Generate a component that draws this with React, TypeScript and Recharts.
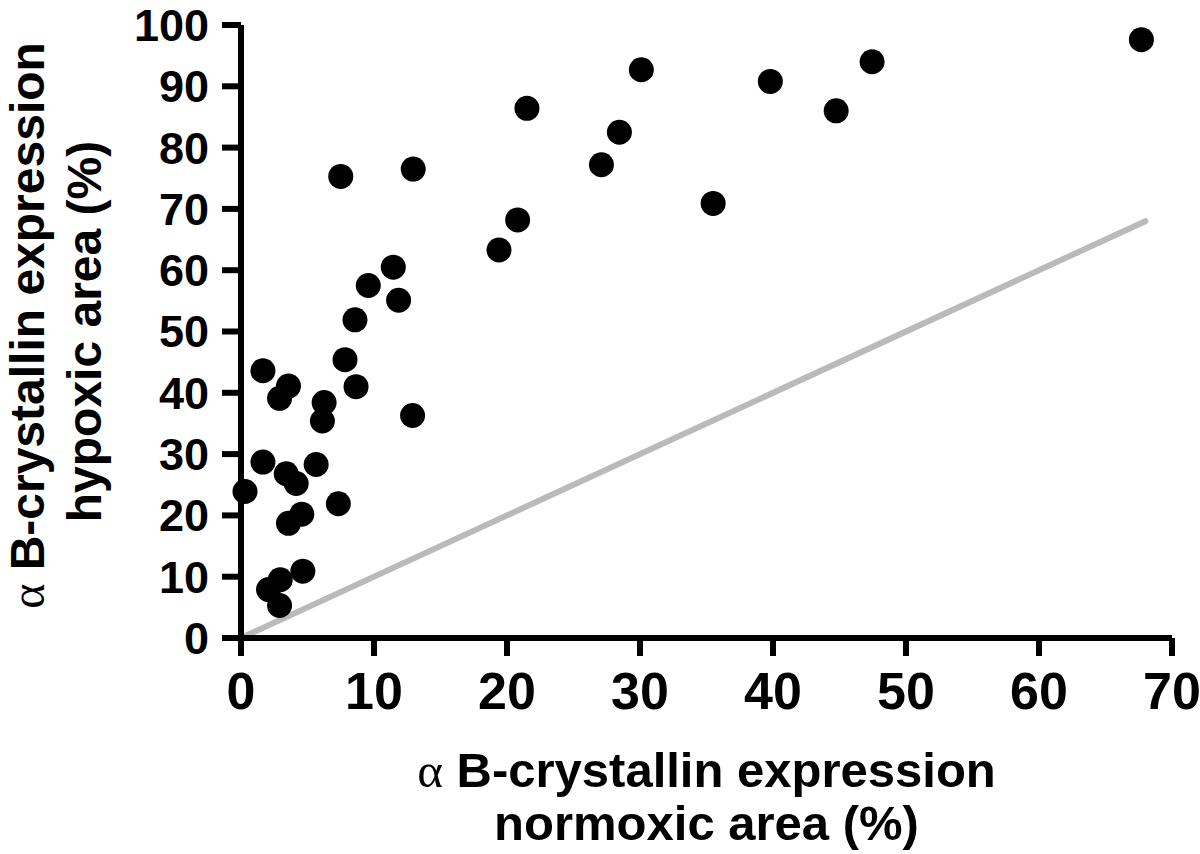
import React from 'react';
import { ScatterChart, Scatter, XAxis, YAxis, ReferenceLine, Label } from 'recharts';

// values (normoxic area % vs hypoxic area %)
const normoxic = [
  0.3, 1.65, 1.65, 2.07, 2.9, 2.95, 2.9, 3.57, 3.4, 3.57, 4.15, 4.57, 4.65, 5.65, 6.12, 6.25, 7.32, 7.5, 7.82,
  8.57, 8.65, 9.57, 11.45, 11.85, 12.9, 12.95, 19.4, 20.8, 21.5, 27.1, 28.45, 30.1, 35.5, 39.8, 44.75, 47.45, 67.7,
];
const hypoxic = [
  23.9, 43.6, 28.7, 7.9, 5.3, 9.5, 39.1, 41.1, 26.8, 18.7, 25.2, 20.2, 10.9, 28.3, 35.4, 38.4, 21.9, 75.3, 45.4,
  51.9, 41.0, 57.5, 60.5, 55.1, 36.3, 76.5, 63.3, 68.2, 86.4, 77.2, 82.5, 92.7, 70.9, 90.8, 86.0, 94.0, 97.6,
];
const xTicks = [0, 10, 20, 30, 40, 50, 60, 70];
const yTicks = [0, 10, 20, 30, 40, 50, 60, 70, 80, 90, 100];
// line of identity, drawn from 0 up to the largest normoxic value
const identityLine = [0, 68];

const points = normoxic.map((x, i) => ({ x, y: hypoxic[i] }));

const FONT = '"Liberation Sans", Arial, Helvetica, sans-serif';
const SERIF = '"Liberation Serif", "Times New Roman", serif';

const Dot = (props: any) => <circle cx={props.cx} cy={props.cy} r={12.5} fill="#000" />;

const XTitle = (props: any) => {
  const vb = props.viewBox || {};
  const cx = vb.x + vb.width / 2;
  return (
    <g fontFamily={FONT} fontWeight="bold" fontSize={49} fill="#000">
      <text x={cx} y={vb.y + 149} textAnchor="middle">
        <tspan fontFamily={SERIF} fontWeight="normal">α</tspan>
        <tspan> B-crystallin expression</tspan>
      </text>
      <text x={cx} y={vb.y + 202} textAnchor="middle">normoxic area (%)</text>
    </g>
  );
};

const YTitle = (props: any) => {
  const vb = props.viewBox || {};
  const cy = vb.y + vb.height / 2;
  return (
    <g fontFamily={FONT} fontWeight="bold" fontSize={48} fill="#000">
      <text x={44} y={cy - 6} textAnchor="middle" transform={`rotate(-90, 44, ${cy - 6})`}>
        <tspan fontFamily={SERIF} fontWeight="normal">α</tspan>
        <tspan> B-crystallin expression</tspan>
      </text>
      <text x={101} y={cy} textAnchor="middle" transform={`rotate(-90, 101, ${cy})`}>hypoxic area (%)</text>
    </g>
  );
};

export default function App() {
  return (
    <div style={{ position: 'absolute', left: 0, top: 0, width: 1200, height: 854, background: '#fff' }}>
      <ScatterChart width={1200} height={854} margin={{ top: 25, right: 28, left: 120, bottom: 116 }}>
        <XAxis
          type="number"
          dataKey="x"
          domain={[0, 70]}
          ticks={xTicks}
          interval={0}
          height={100}
          stroke="#000"
          strokeWidth={6}
          axisLine={{ stroke: '#000', strokeWidth: 6 }}
          tickLine={{ stroke: '#000', strokeWidth: 6 }}
          tickSize={18}
          tickMargin={16}
          tick={{ fill: '#000', fontSize: 52, fontWeight: 'bold', fontFamily: FONT, strokeWidth: 0 }}
        >
          <Label content={XTitle} />
        </XAxis>
        <YAxis
          type="number"
          dataKey="y"
          domain={[0, 100]}
          ticks={yTicks}
          interval={0}
          width={121}
          stroke="#000"
          strokeWidth={6}
          axisLine={{ stroke: '#000', strokeWidth: 6 }}
          tickLine={{ stroke: '#000', strokeWidth: 6 }}
          tickSize={19}
          tickMargin={13}
          tick={{ fill: '#000', fontSize: 45, fontWeight: 'bold', fontFamily: FONT, strokeWidth: 0 }}
        >
          <Label content={YTitle} />
        </YAxis>
        <ReferenceLine
          segment={[
            { x: identityLine[0], y: identityLine[0] },
            { x: identityLine[1], y: identityLine[1] },
          ]}
          stroke="#bababa"
          strokeWidth={6}
          strokeLinecap="round"
        />
        <Scatter data={points} fill="#000" shape={Dot} isAnimationActive={false} />
      </ScatterChart>
    </div>
  );
}
